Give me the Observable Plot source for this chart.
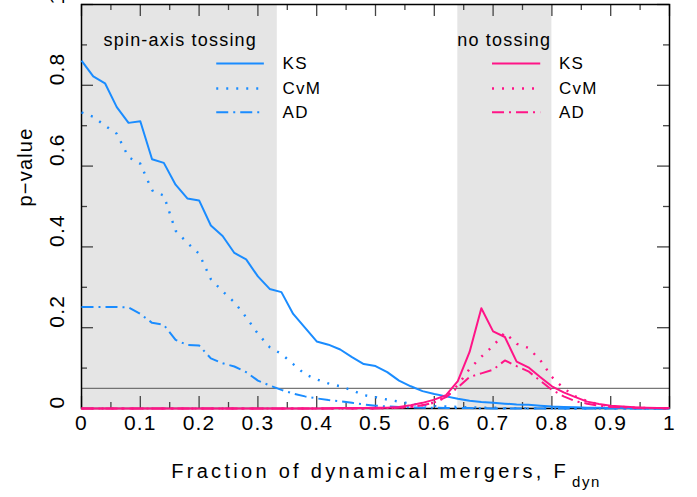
<!DOCTYPE html>
<html>
<head>
<meta charset="utf-8">
<script src="https://cdn.jsdelivr.net/npm/d3@7"></script>
<script src="https://cdn.jsdelivr.net/npm/@observablehq/plot@0.6"></script>
<style>
  body { margin: 0; background: #fff; }
  #wrap { position: relative; width: 697px; height: 497px; overflow: hidden; font-family: "Liberation Sans", Arial, sans-serif; }
  #wrap svg text { letter-spacing: 1.2px; }
  #xlabel { position: absolute; left: 0; top: 461px; width: 697px; padding-left: 75px; box-sizing: border-box; text-align: center;
            font-size: 20px; line-height: 20px; letter-spacing: 3.3px; color: #000; white-space: nowrap; }
  #xlabel sub { font-size: 15px; vertical-align: -9px; letter-spacing: 1.5px; margin-left: 3px; }
</style>
</head>
<body>
<div id="wrap"></div>
<script>
// ---------------- data ----------------
const fdyn = [0,0.02,0.04,0.06,0.08,0.10,0.12,0.14,0.16,0.18,0.20,0.22,0.24,0.26,0.28,0.30,0.32,0.34,0.36,0.38,0.40,
              0.42,0.44,0.46,0.48,0.50,0.52,0.54,0.56,0.58,0.60,0.62,0.64,0.66,0.68,0.70,0.72,0.74,0.76,0.78,0.80,
              0.82,0.84,0.86,0.88,0.90,0.92,0.94,0.96,0.98,1.00];

const spinKS  = [0.861,0.822,0.805,0.746,0.707,0.711,0.617,0.608,0.554,0.520,0.515,0.453,0.427,0.385,0.369,0.327,0.296,0.288,0.234,0.200,0.166,
                 0.158,0.146,0.127,0.110,0.105,0.090,0.069,0.055,0.043,0.036,0.030,0.024,0.019,0.016,0.014,0.012,0.010,0.009,0.007,0.005,
                 0.004,0.003,0.002,0.002,0.001,0.001,0.0005,0,0,0];
const spinCvM = [0.733,0.722,0.700,0.680,0.622,0.606,0.540,0.527,0.440,0.410,0.383,0.320,0.290,0.263,0.226,0.185,0.152,0.135,0.110,0.085,0.072,
                 0.062,0.055,0.045,0.033,0.028,0.022,0.017,0.012,0.008,0.006,0.005,0.004,0.003,0.002,0.002,0.001,0.001,0.001,0.001,0.0005,
                 0,0,0,0,0,0,0,0,0,0];
const spinAD  = [0.251,0.251,0.251,0.251,0.250,0.234,0.212,0.207,0.170,0.157,0.156,0.124,0.112,0.104,0.090,0.069,0.057,0.046,0.037,0.030,0.025,
                 0.021,0.018,0.014,0.010,0.007,0.005,0.004,0.003,0.002,0.002,0.001,0.001,0.001,0.0005,0,0,0,0,0,0,
                 0,0,0,0,0,0,0,0,0,0];
const noKS    = [0,0,0,0,0,0,0,0,0,0,0,0,0,0,0,0,0,0,0,0,0,
                 0.0005,0.001,0.001,0.001,0.002,0.002,0.004,0.008,0.014,0.022,0.033,0.068,0.140,0.248,0.191,0.177,0.116,0.102,0.078,0.055,
                 0.040,0.028,0.017,0.011,0.007,0.005,0.003,0.002,0.001,0.001];
const noCvM   = [0,0,0,0,0,0,0,0,0,0,0,0,0,0,0,0,0,0,0,0,0,
                 0,0,0,0,0,0.001,0.002,0.004,0.008,0.015,0.028,0.058,0.098,0.128,0.155,0.188,0.160,0.150,0.120,0.078,
                 0.050,0.030,0.018,0.010,0.006,0.004,0.002,0.001,0.001,0];
const noAD    = [0,0,0,0,0,0,0,0,0,0,0,0,0,0,0,0,0,0,0,0,0,
                 0,0,0,0,0,0.001,0.002,0.004,0.008,0.015,0.028,0.052,0.078,0.087,0.096,0.119,0.105,0.092,0.069,0.046,
                 0.030,0.018,0.012,0.007,0.004,0.003,0.002,0.001,0.001,0];

const shadeStart = [0, 0.64];
const shadeEnd   = [0.333, 0.80];
const threshold  = 0.05;

const xMajor = [0,0.1,0.2,0.3,0.4,0.5,0.6,0.7,0.8,0.9,1];
const xTickLabels = ["0","0.1","0.2","0.3","0.4","0.5","0.6","0.7","0.8","0.9","1"];
const xMinor = [0.05,0.15,0.25,0.35,0.45,0.55,0.65,0.75,0.85,0.95];
const yMajor = [0,0.2,0.4,0.6,0.8,1];
const yTickLabels = ["0","0.2","0.4","0.6","0.8","1"];
const yMinor = [0.1,0.3,0.5,0.7,0.9];

const tests = ["KS","CvM","AD"];
const groupTitles = ["spin-axis tossing","no tossing"];

// ---------------- style / layout ----------------
const BLUE = "#1a8cff", PINK = "#ff1487", SHADE = "#e5e5e5";
const dash = {KS: null, CvM: "2,8", AD: "12,5,2,5"};
const width = {KS: 2, CvM: 2.4, AD: 2};
const W = 697, H = 455, mT = 4, mR = 28, mB = 47, mL = 81;
const plotW = W - mL - mR, plotH = H - mT - mB;
const legendRowsY = [0.854, 0.792, 0.733];
const legendLayout = [
  {title: [0.168, 0.912], x1: 0.230, x2: 0.311, label: 0.342, color: BLUE},
  {title: [0.719, 0.912], x1: 0.699, x2: 0.781, label: 0.812, color: PINK}
];

const seriesDefs = [
  {vals: spinKS, test: "KS", color: BLUE}, {vals: spinCvM, test: "CvM", color: BLUE}, {vals: spinAD, test: "AD", color: BLUE},
  {vals: noKS, test: "KS", color: PINK}, {vals: noCvM, test: "CvM", color: PINK}, {vals: noAD, test: "AD", color: PINK}
];

const lineMarks = seriesDefs.map(s =>
  Plot.line(fdyn.map((x, i) => ({x, p: s.vals[i]})), {
    x: "x", y: "p", stroke: s.color, strokeWidth: width[s.test],
    strokeDasharray: dash[s.test], strokeLinejoin: "round", strokeLinecap: "butt"
  })
);

const legendMarks = [];
legendLayout.forEach((g, gi) => {
  legendMarks.push(Plot.text([groupTitles[gi]], {x: g.title[0], y: g.title[1], text: d => d, fontSize: 18, fill: "#000"}));
  tests.forEach((t, ti) => {
    legendMarks.push(Plot.ruleY([legendRowsY[ti]], {y: d => d, x1: g.x1, x2: g.x2, stroke: g.color,
      strokeWidth: width[t], strokeDasharray: dash[t]}));
    legendMarks.push(Plot.text([t], {x: g.label, y: legendRowsY[ti], text: d => d, textAnchor: "start", fontSize: 17, fill: "#000"}));
  });
});

const TICK = "#444";
const chart = Plot.plot({
  width: W, height: H, marginTop: mT, marginRight: mR, marginBottom: mB, marginLeft: mL,
  x: {domain: [0, 1], axis: null},
  y: {domain: [0, 1], axis: null},
  style: {fontFamily: '"Liberation Sans", Arial, sans-serif', background: "#fff", overflow: "hidden"},
  marks: [
    Plot.rect(shadeStart.map((s, i) => ({x1: s, x2: shadeEnd[i]})), {x1: "x1", x2: "x2", y1: 0, y2: 1, fill: SHADE}),
    Plot.ruleY([threshold], {stroke: "#555", strokeWidth: 1}),
    // ticks (inward, all four sides)
    Plot.tickX(xMajor, {x: d => d, insetTop: plotH - 12, stroke: TICK, strokeWidth: 1.3}),
    Plot.tickX(xMinor, {x: d => d, insetTop: plotH - 6, stroke: TICK, strokeWidth: 1.3}),
    Plot.tickX(xMajor, {x: d => d, insetBottom: plotH - 12, stroke: TICK, strokeWidth: 1.3}),
    Plot.tickX(xMinor, {x: d => d, insetBottom: plotH - 6, stroke: TICK, strokeWidth: 1.3}),
    Plot.tickY(yMajor, {y: d => d, insetRight: plotW - 12, stroke: TICK, strokeWidth: 1.3}),
    Plot.tickY(yMinor, {y: d => d, insetRight: plotW - 6, stroke: TICK, strokeWidth: 1.3}),
    Plot.tickY(yMajor, {y: d => d, insetLeft: plotW - 12, stroke: TICK, strokeWidth: 1.3}),
    Plot.tickY(yMinor, {y: d => d, insetLeft: plotW - 6, stroke: TICK, strokeWidth: 1.3}),
    Plot.frame({stroke: "#000", strokeWidth: 1.5}),
    ...lineMarks,
    ...legendMarks,
    // tick labels
    Plot.text(xMajor, {x: d => d, text: (d, i) => xTickLabels[i], frameAnchor: "bottom", dy: 21, fontSize: 21, fill: "#000"}),
    Plot.text(yMajor, {y: d => d, text: (d, i) => yTickLabels[i], frameAnchor: "left", dx: -24, rotate: -90, fontSize: 21, fill: "#000"}),
    Plot.text(["p\u2212value"], {text: d => d, frameAnchor: "left", dx: -56, rotate: -90, fontSize: 20, fill: "#000"})
  ]
});

const wrap = document.getElementById("wrap");
wrap.appendChild(chart);
const xl = document.createElement("div");
xl.id = "xlabel";
xl.innerHTML = "Fraction of dynamical mergers, F<sub>dyn</sub>";
wrap.appendChild(xl);
</script>
</body>
</html>
